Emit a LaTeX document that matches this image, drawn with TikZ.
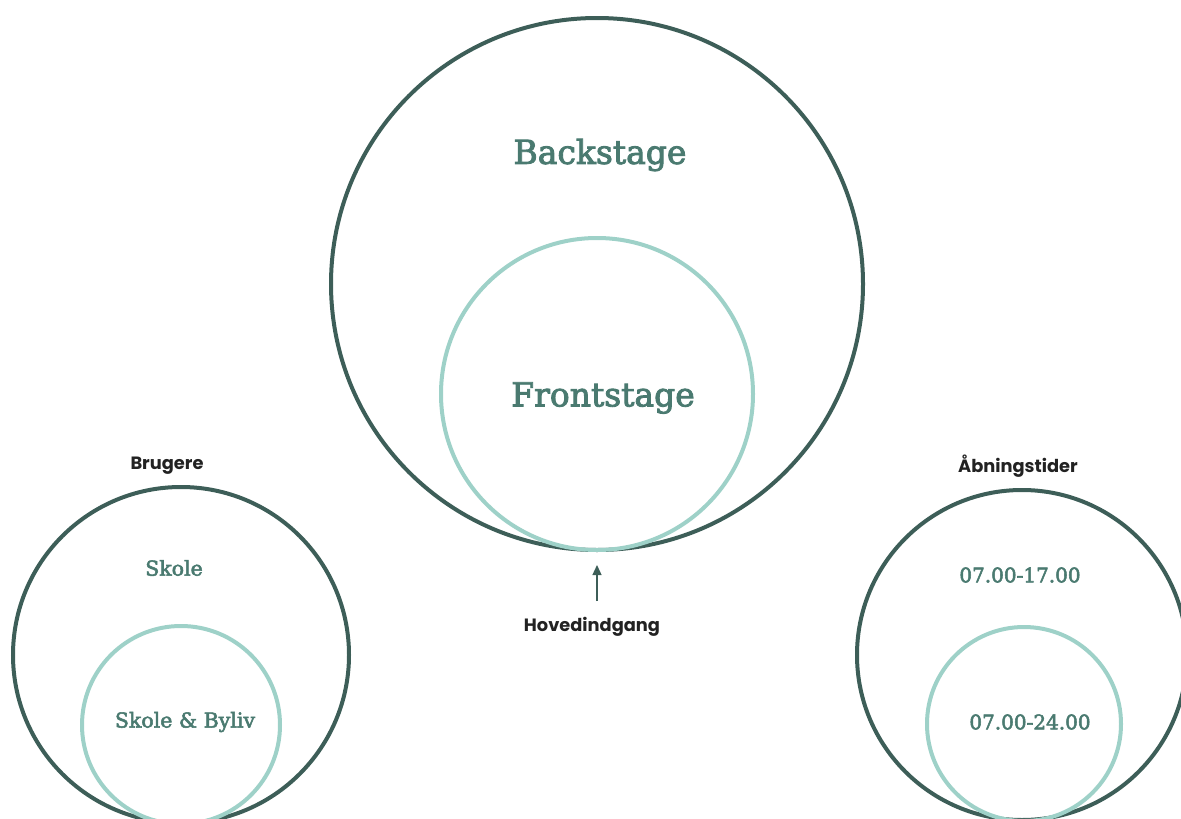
\documentclass[tikz,border=0pt]{standalone}
\usepackage{fontspec}
\setmainfont{DejaVu Serif}
\newfontfamily\ringfont{DejaVu Serif}[BoldFont={DejaVu Serif}, BoldFeatures={FakeBold=2.6}]
\newfontfamily\labelfont{Poppins}
\usetikzlibrary{arrows.meta}
\definecolor{darkring}{HTML}{3D5E58}
\definecolor{lightring}{HTML}{9ED1C8}
\definecolor{ringtext}{HTML}{4A7A70}
\definecolor{labeltext}{HTML}{222222}
\tikzset{
  outerring/.style={draw=darkring, line width=4pt, circle, inner sep=0pt},
  innerring/.style={draw=lightring, line width=4pt, circle, inner sep=0pt},
  ringlabel/.style={text=ringtext, inner sep=0pt},
  headlabel/.style={text=labeltext, font=\labelfont\bfseries\fontsize{17.8}{20}\selectfont, inner sep=0pt},
}
\begin{document}
\begin{tikzpicture}[x=1pt,y=-1pt]
\useasboundingbox (0,0) rectangle (1181,819);
% centre
\node[outerring, minimum size=532pt] (bigout) at (597,284) {};
\node[innerring, minimum size=312pt] (bigin) at (597,394) {};
\node[ringlabel, font=\ringfont\bfseries\fontsize{33}{38}\selectfont] (back) at (600,155) {Backstage};
\node[ringlabel, font=\ringfont\bfseries\fontsize{33}{38}\selectfont] (front) at (603,398) {Frontstage};
\node[headlabel] (hoved) at (592,627) {Hovedindgang};
\coordinate (arrowstart) at (597,601);
\coordinate (arrowend) at (597,565);
\draw[darkring, line width=1.3pt, -{Triangle[length=10pt,width=9pt]}] (arrowstart) -- (arrowend);
% left
\node[outerring, minimum size=336pt] (leftout) at (181,655) {};
\node[innerring, minimum size=198pt] (leftin) at (181,725) {};
\node[headlabel] (brugere) at (167,466) {Brugere};
\node[ringlabel, font=\ringfont\bfseries\fontsize{20.5}{24}\selectfont] (skole) at (174,568) {Skole};
\node[ringlabel, font=\ringfont\bfseries\fontsize{20.5}{24}\selectfont] (skoleby) at (185,722) {Skole \& Byliv};
% right
\node[outerring, minimum size=330pt] (rightout) at (1022,655) {};
\node[innerring, minimum size=194pt] (rightin) at (1024,724) {};
\node[headlabel] (aabning) at (1018,466) {Åbningstider};
\node[ringlabel, font=\ringfont\bfseries\fontsize{20}{24}\selectfont] (t1) at (1020,575) {07.00-17.00};
\node[ringlabel, font=\ringfont\bfseries\fontsize{20}{24}\selectfont] (t2) at (1030,722) {07.00-24.00};
\end{tikzpicture}
\end{document}
